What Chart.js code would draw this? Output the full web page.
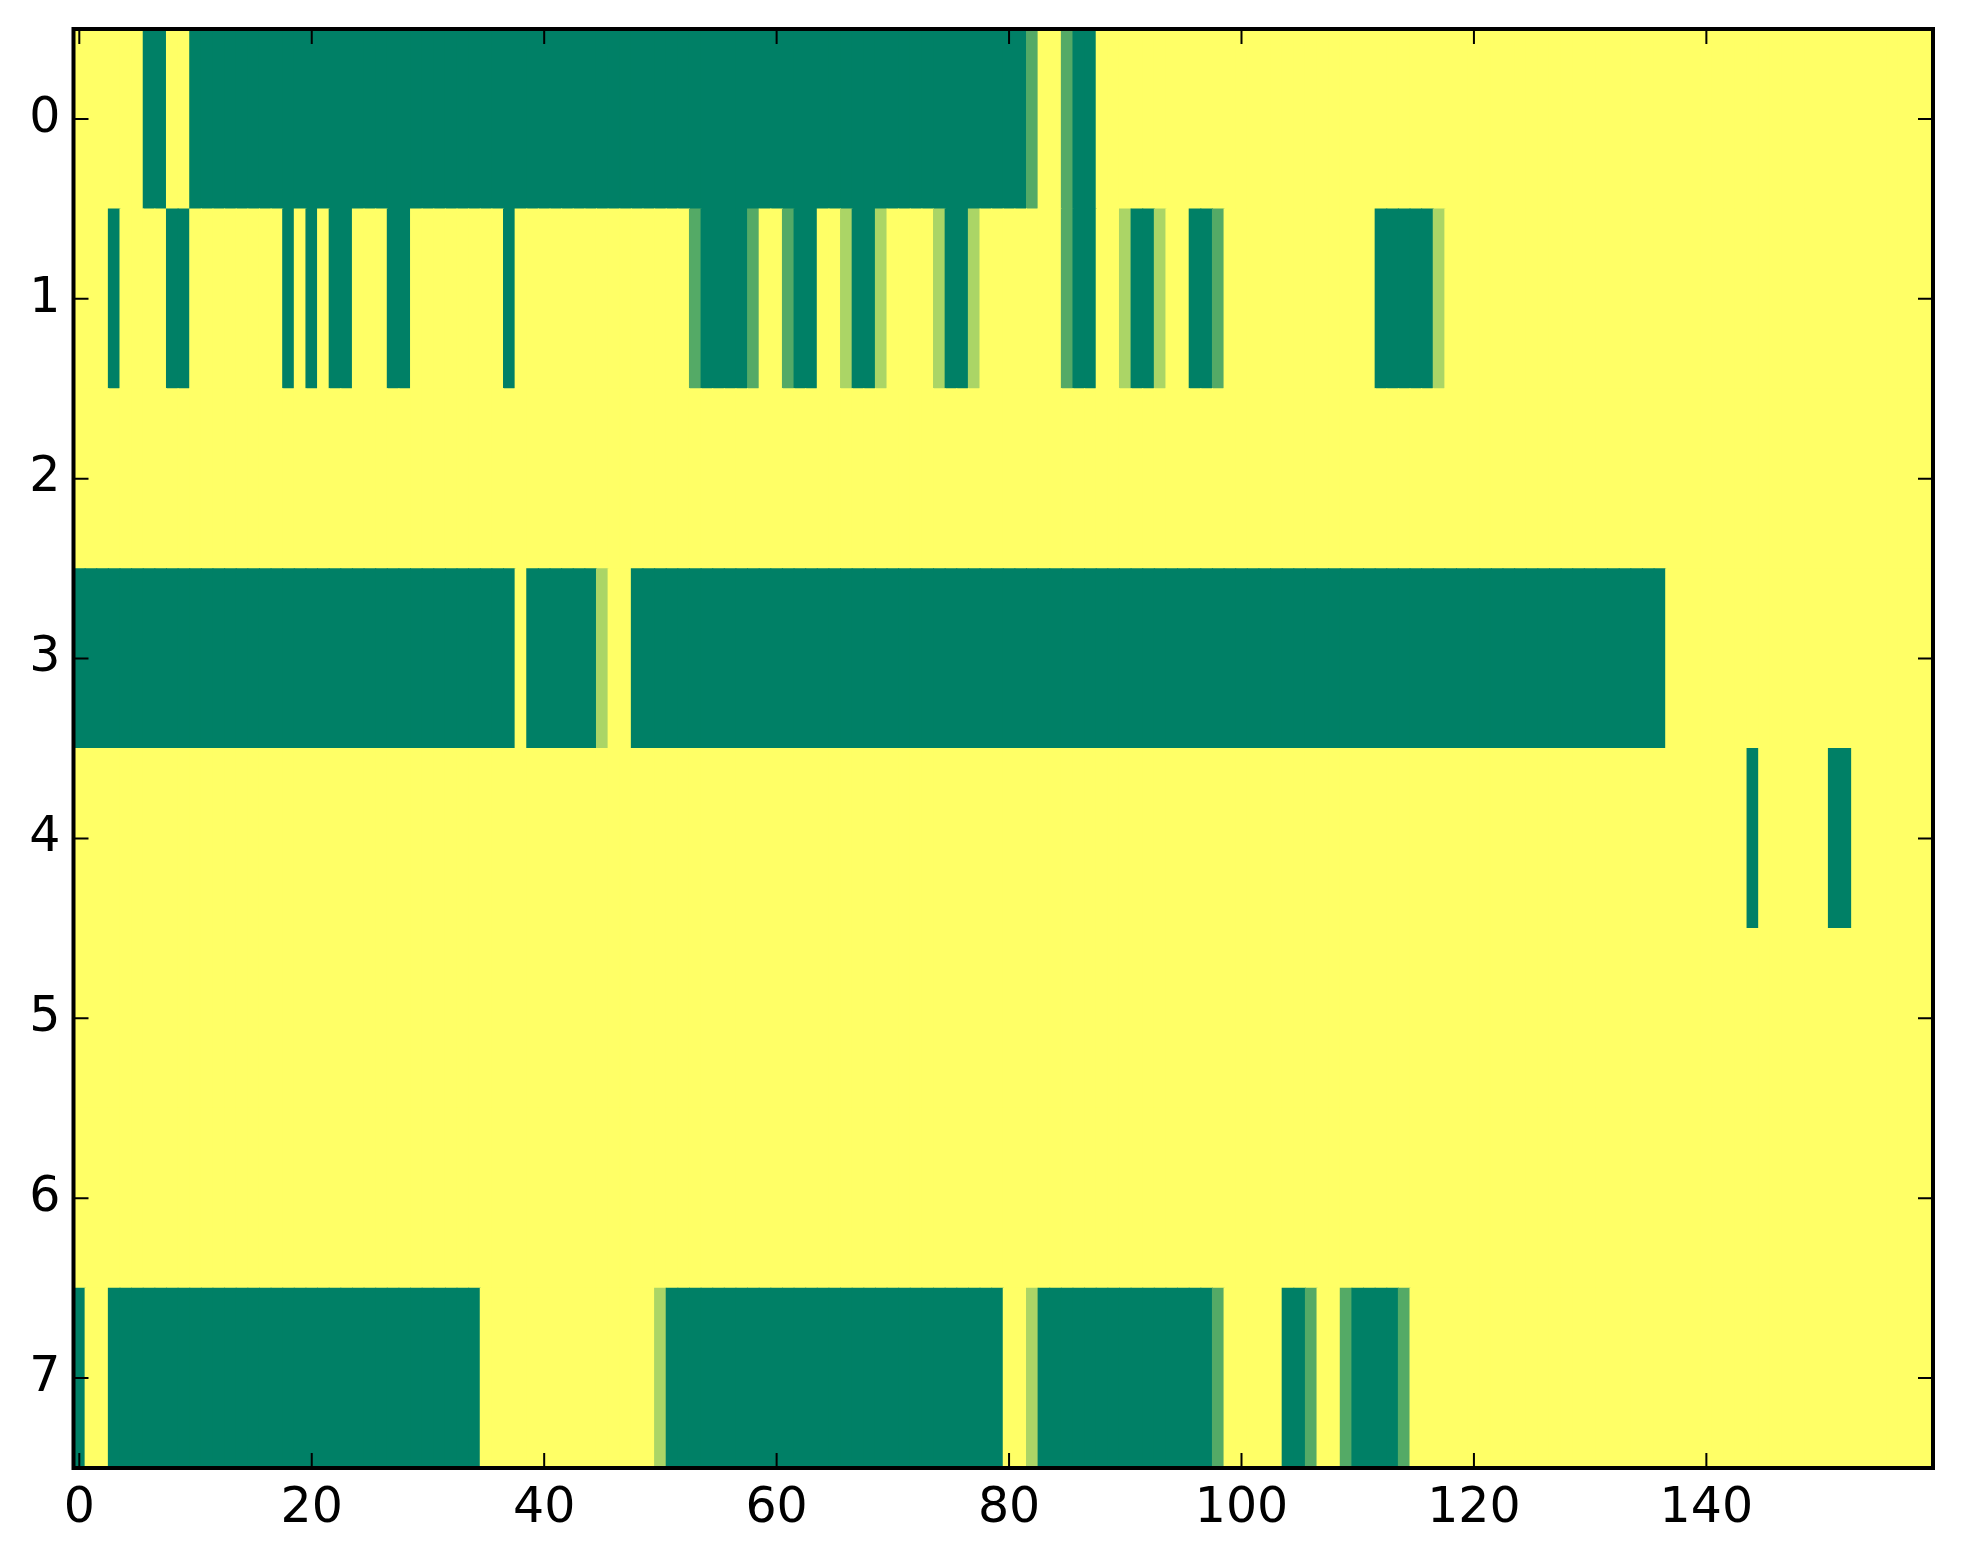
<!DOCTYPE html>
<html>
<head>
<meta charset="utf-8">
<script src="https://cdn.jsdelivr.net/npm/chart.js@4"></script>
<style>
  html, body { margin: 0; padding: 0; background: #ffffff; }
  #chart { display: block; }
</style>
</head>
<body>
<canvas id="chart" width="1963" height="1564"></canvas>
<script>
// tick labels
const xTicks = [0, 20, 40, 60, 80, 100, 120, 140];
const yTicks = [0, 1, 2, 3, 4, 5, 6, 7];

// one array per image row, 160 columns each (0 = dark green, 1 = yellow)
const row0 = [
    1, 1, 1, 1, 1, 1, 0, 0, 1, 1, 0, 0, 0, 0, 0, 0, 0, 0, 0, 0,
    0, 0, 0, 0, 0, 0, 0, 0, 0, 0, 0, 0, 0, 0, 0, 0, 0, 0, 0, 0,
    0, 0, 0, 0, 0, 0, 0, 0, 0, 0, 0, 0, 0, 0, 0, 0, 0, 0, 0, 0,
    0, 0, 0, 0, 0, 0, 0, 0, 0, 0, 0, 0, 0, 0, 0, 0, 0, 0, 0, 0,
    0, 0, 0.33, 1, 1, 0.33, 0, 0, 1, 1, 1, 1, 1, 1, 1, 1, 1, 1, 1, 1,
    1, 1, 1, 1, 1, 1, 1, 1, 1, 1, 1, 1, 1, 1, 1, 1, 1, 1, 1, 1,
    1, 1, 1, 1, 1, 1, 1, 1, 1, 1, 1, 1, 1, 1, 1, 1, 1, 1, 1, 1,
    1, 1, 1, 1, 1, 1, 1, 1, 1, 1, 1, 1, 1, 1, 1, 1, 1, 1, 1, 1
];
const row1 = [
    1, 1, 1, 0, 1, 1, 1, 1, 0, 0, 1, 1, 1, 1, 1, 1, 1, 1, 0, 1,
    0, 1, 0, 0, 1, 1, 1, 0, 0, 1, 1, 1, 1, 1, 1, 1, 1, 0, 1, 1,
    1, 1, 1, 1, 1, 1, 1, 1, 1, 1, 1, 1, 1, 0.33, 0, 0, 0, 0, 0.33, 1,
    1, 0.33, 0, 0, 1, 1, 0.67, 0, 0, 0.67, 1, 1, 1, 1, 0.67, 0, 0, 0.67, 1, 1,
    1, 1, 1, 1, 1, 0.33, 0, 0, 1, 1, 0.67, 0, 0, 0.67, 1, 1, 0, 0, 0.33, 1,
    1, 1, 1, 1, 1, 1, 1, 1, 1, 1, 1, 1, 0, 0, 0, 0, 0, 0.67, 1, 1,
    1, 1, 1, 1, 1, 1, 1, 1, 1, 1, 1, 1, 1, 1, 1, 1, 1, 1, 1, 1,
    1, 1, 1, 1, 1, 1, 1, 1, 1, 1, 1, 1, 1, 1, 1, 1, 1, 1, 1, 1
];
const row2 = [
    1, 1, 1, 1, 1, 1, 1, 1, 1, 1, 1, 1, 1, 1, 1, 1, 1, 1, 1, 1,
    1, 1, 1, 1, 1, 1, 1, 1, 1, 1, 1, 1, 1, 1, 1, 1, 1, 1, 1, 1,
    1, 1, 1, 1, 1, 1, 1, 1, 1, 1, 1, 1, 1, 1, 1, 1, 1, 1, 1, 1,
    1, 1, 1, 1, 1, 1, 1, 1, 1, 1, 1, 1, 1, 1, 1, 1, 1, 1, 1, 1,
    1, 1, 1, 1, 1, 1, 1, 1, 1, 1, 1, 1, 1, 1, 1, 1, 1, 1, 1, 1,
    1, 1, 1, 1, 1, 1, 1, 1, 1, 1, 1, 1, 1, 1, 1, 1, 1, 1, 1, 1,
    1, 1, 1, 1, 1, 1, 1, 1, 1, 1, 1, 1, 1, 1, 1, 1, 1, 1, 1, 1,
    1, 1, 1, 1, 1, 1, 1, 1, 1, 1, 1, 1, 1, 1, 1, 1, 1, 1, 1, 1
];
const row3 = [
    0, 0, 0, 0, 0, 0, 0, 0, 0, 0, 0, 0, 0, 0, 0, 0, 0, 0, 0, 0,
    0, 0, 0, 0, 0, 0, 0, 0, 0, 0, 0, 0, 0, 0, 0, 0, 0, 0, 1, 0,
    0, 0, 0, 0, 0, 0.67, 1, 1, 0, 0, 0, 0, 0, 0, 0, 0, 0, 0, 0, 0,
    0, 0, 0, 0, 0, 0, 0, 0, 0, 0, 0, 0, 0, 0, 0, 0, 0, 0, 0, 0,
    0, 0, 0, 0, 0, 0, 0, 0, 0, 0, 0, 0, 0, 0, 0, 0, 0, 0, 0, 0,
    0, 0, 0, 0, 0, 0, 0, 0, 0, 0, 0, 0, 0, 0, 0, 0, 0, 0, 0, 0,
    0, 0, 0, 0, 0, 0, 0, 0, 0, 0, 0, 0, 0, 0, 0, 0, 0, 1, 1, 1,
    1, 1, 1, 1, 1, 1, 1, 1, 1, 1, 1, 1, 1, 1, 1, 1, 1, 1, 1, 1
];
const row4 = [
    1, 1, 1, 1, 1, 1, 1, 1, 1, 1, 1, 1, 1, 1, 1, 1, 1, 1, 1, 1,
    1, 1, 1, 1, 1, 1, 1, 1, 1, 1, 1, 1, 1, 1, 1, 1, 1, 1, 1, 1,
    1, 1, 1, 1, 1, 1, 1, 1, 1, 1, 1, 1, 1, 1, 1, 1, 1, 1, 1, 1,
    1, 1, 1, 1, 1, 1, 1, 1, 1, 1, 1, 1, 1, 1, 1, 1, 1, 1, 1, 1,
    1, 1, 1, 1, 1, 1, 1, 1, 1, 1, 1, 1, 1, 1, 1, 1, 1, 1, 1, 1,
    1, 1, 1, 1, 1, 1, 1, 1, 1, 1, 1, 1, 1, 1, 1, 1, 1, 1, 1, 1,
    1, 1, 1, 1, 1, 1, 1, 1, 1, 1, 1, 1, 1, 1, 1, 1, 1, 1, 1, 1,
    1, 1, 1, 1, 0, 1, 1, 1, 1, 1, 1, 0, 0, 1, 1, 1, 1, 1, 1, 1
];
const row5 = row2.slice();
const row6 = row2.slice();
const row7 = [
    0, 1, 1, 0, 0, 0, 0, 0, 0, 0, 0, 0, 0, 0, 0, 0, 0, 0, 0, 0,
    0, 0, 0, 0, 0, 0, 0, 0, 0, 0, 0, 0, 0, 0, 0, 1, 1, 1, 1, 1,
    1, 1, 1, 1, 1, 1, 1, 1, 1, 1, 0.67, 0, 0, 0, 0, 0, 0, 0, 0, 0,
    0, 0, 0, 0, 0, 0, 0, 0, 0, 0, 0, 0, 0, 0, 0, 0, 0, 0, 0, 0,
    1, 1, 0.67, 0, 0, 0, 0, 0, 0, 0, 0, 0, 0, 0, 0, 0, 0, 0, 0.33, 1,
    1, 1, 1, 1, 0, 0, 0.33, 1, 1, 0.33, 0, 0, 0, 0, 0.33, 1, 1, 1, 1, 1,
    1, 1, 1, 1, 1, 1, 1, 1, 1, 1, 1, 1, 1, 1, 1, 1, 1, 1, 1, 1,
    1, 1, 1, 1, 1, 1, 1, 1, 1, 1, 1, 1, 1, 1, 1, 1, 1, 1, 1, 1
];
const rows = [row0, row1, row2, row3, row4, row5, row6, row7];

// matplotlib "summer" colormap
function summer(v) {
    const r = Math.round(v * 255);
    const g = Math.round((0.5 + 0.5 * v) * 255);
    return `rgb(${r}, ${g}, 102)`;
}

// every cell becomes a floating horizontal bar one column wide
const cells = [];
rows.forEach((vals, r) => {
    vals.forEach((v, c) => {
        cells.push({ x: [c - 0.5, c + 0.5], y: r, v: v });
    });
});

// frame and inward ticks on all four sides
const framePlugin = {
    id: 'frame',
    afterDraw(chart) {
        const { ctx, chartArea: a, scales: { x, y } } = chart;
        ctx.save();
        ctx.strokeStyle = '#000000';
        ctx.lineWidth = 2;
        ctx.beginPath();
        x.ticks.forEach(t => {
            const px = x.getPixelForValue(t.value);
            ctx.moveTo(px, a.bottom);
            ctx.lineTo(px, a.bottom - 15);
            ctx.moveTo(px, a.top);
            ctx.lineTo(px, a.top + 15);
        });
        y.ticks.forEach(t => {
            const py = y.getPixelForValue(t.value);
            ctx.moveTo(a.left, py);
            ctx.lineTo(a.left + 15, py);
            ctx.moveTo(a.right, py);
            ctx.lineTo(a.right - 15, py);
        });
        ctx.stroke();
        ctx.lineWidth = 4;
        ctx.strokeRect(a.left, a.top, a.right - a.left, a.bottom - a.top);
        ctx.restore();
    }
};

const tickFont = { family: 'DejaVu Sans', size: 49 };

new Chart(document.getElementById('chart'), {
    type: 'bar',
    data: {
        datasets: [{
            data: cells,
            backgroundColor: ctx => summer(ctx.raw.v),
            borderWidth: 0,
            barPercentage: 1,
            categoryPercentage: 1,
            inflateAmount: 0.5
        }]
    },
    options: {
        indexAxis: 'y',
        responsive: false,
        animation: false,
        devicePixelRatio: 1,
        layout: { padding: { top: 29, right: 30, left: 0, bottom: 0 } },
        plugins: {
            legend: { display: false },
            tooltip: { enabled: false }
        },
        scales: {
            x: {
                type: 'linear',
                position: 'bottom',
                min: -0.5,
                max: 159.5,
                offset: false,
                grid: { display: false, drawTicks: false },
                border: { display: false },
                afterBuildTicks: scale => { scale.ticks = xTicks.map(v => ({ value: v })); },
                afterFit: scale => {
                    scale.height = 96;
                    scale.paddingLeft = 0;
                    scale.paddingRight = 0;
                },
                ticks: { font: tickFont, color: '#000000', padding: 12, maxRotation: 0 }
            },
            y: {
                type: 'linear',
                reverse: true,
                min: -0.5,
                max: 7.5,
                offset: false,
                grid: { display: false, drawTicks: false },
                border: { display: false },
                afterBuildTicks: scale => { scale.ticks = yTicks.map(v => ({ value: v })); },
                afterFit: scale => {
                    scale.width = 73.5;
                    scale.paddingTop = 0;
                    scale.paddingBottom = 0;
                },
                ticks: { font: tickFont, color: '#000000', padding: 13 }
            }
        }
    },
    plugins: [framePlugin]
});
</script>
</body>
</html>
